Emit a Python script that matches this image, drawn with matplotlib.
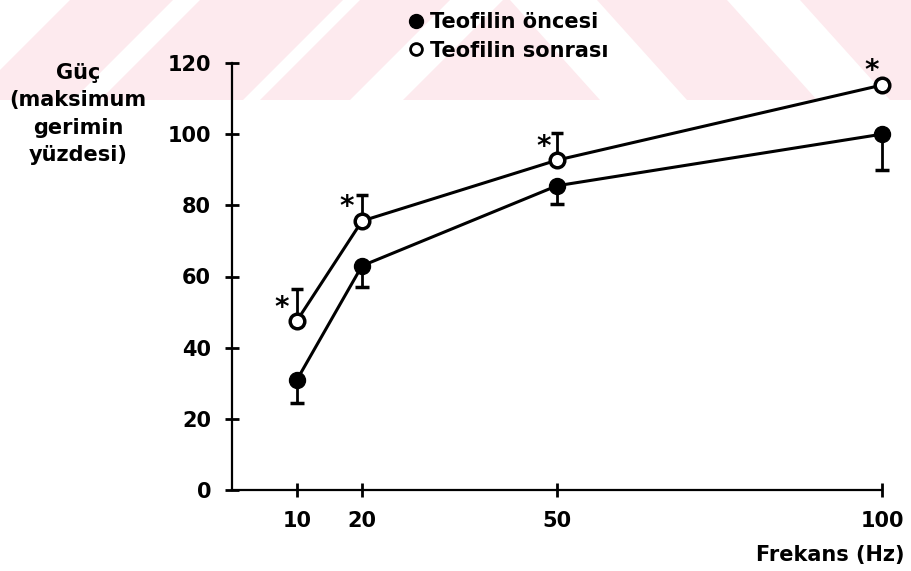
import matplotlib.pyplot as plt
from matplotlib.lines import Line2D
from matplotlib.patches import Polygon

plt.rcParams.update({
    "font.family": "DejaVu Sans",
    "font.weight": "bold",
    "axes.linewidth": 1.6,
})

freq = [10, 20, 50, 100]
before = [31, 63, 85.5, 100]
before_err = [6.5, 6, 5.2, 10]
after = [47.6, 75.6, 92.7, 113.8]
after_err = [9, 7.3, 7.5, 0]
# asterisk offsets (pixels) from the top of each "after" error bar
star_dx = [-15, -15, -13, -10]
star_dy = [-19, -12, -14, 14]

W, H = 911, 571
fig = plt.figure(figsize=(W / 100, H / 100), dpi=100)

# faint watermark band at the top (pixel coords: top edge y=0, bottom y=100)
pink = "#fdeaee"
stripes = [
    ((70, 173), (-30, 73)),
    ((200, 343), (100, 243)),
    ((360, 450), (260, 350)),
    ((503, 510), (403, 600)),
    ((597, 727), (687, 817)),
    ((800, 1000), (890, 1090)),
]
for (t0, t1), (b0, b1) in stripes:
    pts = [(t0, 0), (t1, 0), (b1, 100), (b0, 100)]
    fig.patches.append(Polygon([(px / W, 1 - py / H) for px, py in pts],
                               closed=True, transform=fig.transFigure,
                               facecolor=pink, edgecolor="none", zorder=-1))

ax = fig.add_axes([232 / W, 81 / H, 650 / W, 427 / H])
ax.patch.set_alpha(0)

ax.errorbar(freq, before, yerr=[before_err, [0] * 4], fmt="o-", color="black",
            mfc="black", ms=11.5, lw=2.2, elinewidth=2, capsize=5, capthick=2.5,
            clip_on=False, zorder=3)
ax.errorbar(freq, after, yerr=[[0] * 4, after_err], fmt="o-", color="black",
            mfc="white", mec="black", mew=2.5, ms=10.5, lw=2.2, elinewidth=2,
            capsize=4, capthick=2.5, clip_on=False, zorder=3)

for x, y, e, dx, dy in zip(freq, after, after_err, star_dx, star_dy):
    ax.annotate("*", (x, y + e), xytext=(dx * 0.72, dy * 0.72),
                textcoords="offset points", ha="center", va="center",
                fontsize=20, fontweight="bold")

ax.set_xlim(0, 100)
ax.set_ylim(0, 120)
ax.set_xticks(freq)
ax.set_yticks(range(0, 121, 20))
ax.spines["top"].set_visible(False)
ax.spines["right"].set_visible(False)
ax.tick_params(direction="inout", length=10, width=2, labelsize=15, pad=10)

fig.text(78 / W, 1 - 114 / H, "Güç\n(maksimum\ngerimin\nyüzdesi)",
         ha="center", va="center", fontsize=15, linespacing=1.45)
fig.text(905 / W, 1 - 555 / H, "Frekans (Hz)", ha="right", va="center",
         fontsize=15)

handles = [
    Line2D([], [], ls="none", marker="o", color="black", ms=10),
    Line2D([], [], ls="none", marker="o", color="black", mfc="white",
           mew=2, ms=8.5),
]
fig.legend(handles, ["Teofilin öncesi", "Teofilin sonrası"],
           loc="upper left", bbox_to_anchor=(398 / W, 1 - 4 / H),
           frameon=False, fontsize=15, handletextpad=0.25, handlelength=0.9,
           labelspacing=0.4, borderaxespad=0)

fig.savefig("out.png", dpi=100)
